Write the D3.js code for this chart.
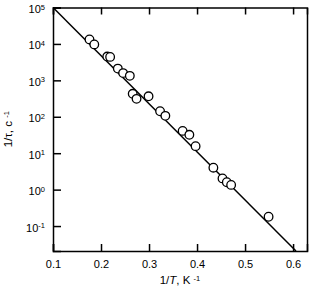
<!DOCTYPE html>
<html>
<head>
<meta charset="utf-8">
<script src="https://cdn.jsdelivr.net/npm/d3@7"></script>
<style>
  body { margin: 0; background: #fff; }
  svg { display: block; font-family: "Liberation Sans", Arial, sans-serif; }
  .axis path, .axis line { stroke: #000; stroke-width: 1.5px; }
  .axis text { font-size: 11px; fill: #000; }
  .title { font-size: 11.5px; fill: #000; }
</style>
</head>
<body>
<div id="chart"></div>
<script>
// measured points: 1/T (K^-1) vs 1/tau (s^-1)
const invT = [0.176, 0.186, 0.213, 0.219, 0.235, 0.246, 0.260, 0.266, 0.274, 0.299,
              0.323, 0.334, 0.370, 0.384, 0.397, 0.434, 0.453, 0.462, 0.471, 0.549];
const rate = [1.33e4, 9.7e3, 4.5e3, 4.4e3, 2.1e3, 1.58e3, 1.33e3, 427, 311, 365,
              142, 106, 41, 32, 15.6, 4.0, 2.03, 1.6, 1.35, 0.18];

// fitted straight line (Arrhenius)
const fitX = [0.1, 0.606];
const fitY = [1e5, 0.0207];

const xTicks = [0.1, 0.2, 0.3, 0.4, 0.5, 0.6];
const yExp = [-1, 0, 1, 2, 3, 4, 5];

const W = 310, H = 300;
const margin = {top: 7.5, right: 3, bottom: 49, left: 53};
const width = W - margin.left - margin.right;
const height = H - margin.top - margin.bottom;

const svg = d3.select("#chart").append("svg")
    .attr("width", W)
    .attr("height", H);

const g = svg.append("g")
    .attr("transform", "translate(" + margin.left + "," + margin.top + ")");

const x = d3.scaleLinear().domain([0.1, 0.629]).range([0, width]);
const y = d3.scaleLog().domain([Math.pow(10, -1.685), 1e5]).range([height, 0]);

// clip for the fit line
svg.append("defs").append("clipPath").attr("id", "plotClip")
    .append("rect").attr("width", width).attr("height", height);

// bottom axis, ticks inside
g.append("g")
    .attr("class", "axis")
    .attr("transform", "translate(0," + height + ")")
    .call(d3.axisBottom(x).tickValues(xTicks).tickSize(-7).tickPadding(9)
        .tickFormat(d3.format(".1f")));

// top axis, no labels
g.append("g")
    .attr("class", "axis")
    .call(d3.axisTop(x).tickValues(xTicks).tickSize(-7).tickFormat(""));

// right border
g.append("g")
    .attr("class", "axis")
    .attr("transform", "translate(" + width + ",0)")
    .call(d3.axisRight(y).tickValues([]).tickSize(0));

// left axis with 10^n labels
const yAxis = g.append("g")
    .attr("class", "axis")
    .call(d3.axisLeft(y).tickValues(yExp.map(e => Math.pow(10, e)))
        .tickSize(-8).tickPadding(8).tickFormat(""));

yAxis.selectAll(".tick text").each(function(d) {
    const t = d3.select(this);
    const e = Math.round(Math.log10(d));
    t.append("tspan").text("10");
    t.append("tspan").attr("dy", "-0.45em").style("font-size", "7.5px").text(e);
});
yAxis.selectAll(".tick text").attr("dy", "0.45em");

// fit line
g.append("path")
    .datum(fitX.map((v, i) => [v, fitY[i]]))
    .attr("clip-path", "url(#plotClip)")
    .attr("fill", "none")
    .attr("stroke", "#000")
    .attr("stroke-width", 1.5)
    .attr("d", d3.line().x(d => x(d[0])).y(d => y(d[1])));

// points
g.selectAll(".pt")
    .data(invT.map((v, i) => ({x: v, y: rate[i]})))
    .enter().append("circle")
    .attr("class", "pt")
    .attr("cx", d => x(d.x))
    .attr("cy", d => y(d.y))
    .attr("r", 4.3)
    .attr("fill", "#fff")
    .attr("stroke", "#000")
    .attr("stroke-width", 1.3);

// axis titles
const xl = svg.append("text")
    .attr("class", "title")
    .attr("x", margin.left + width / 2)
    .attr("y", 284)
    .attr("text-anchor", "middle");
xl.append("tspan").text("1/");
xl.append("tspan").style("font-style", "italic").text("T");
xl.append("tspan").text(", K ");
xl.append("tspan").attr("dy", "-0.45em").style("font-size", "7.5px").text("-1");

const yl = svg.append("text")
    .attr("class", "title")
    .attr("transform", "translate(12," + (margin.top + height / 2) + ") rotate(-90)")
    .attr("text-anchor", "middle");
yl.append("tspan").text("1/τ, c ");
yl.append("tspan").attr("dy", "-0.45em").style("font-size", "7.5px").text("-1");
</script>
</body>
</html>
